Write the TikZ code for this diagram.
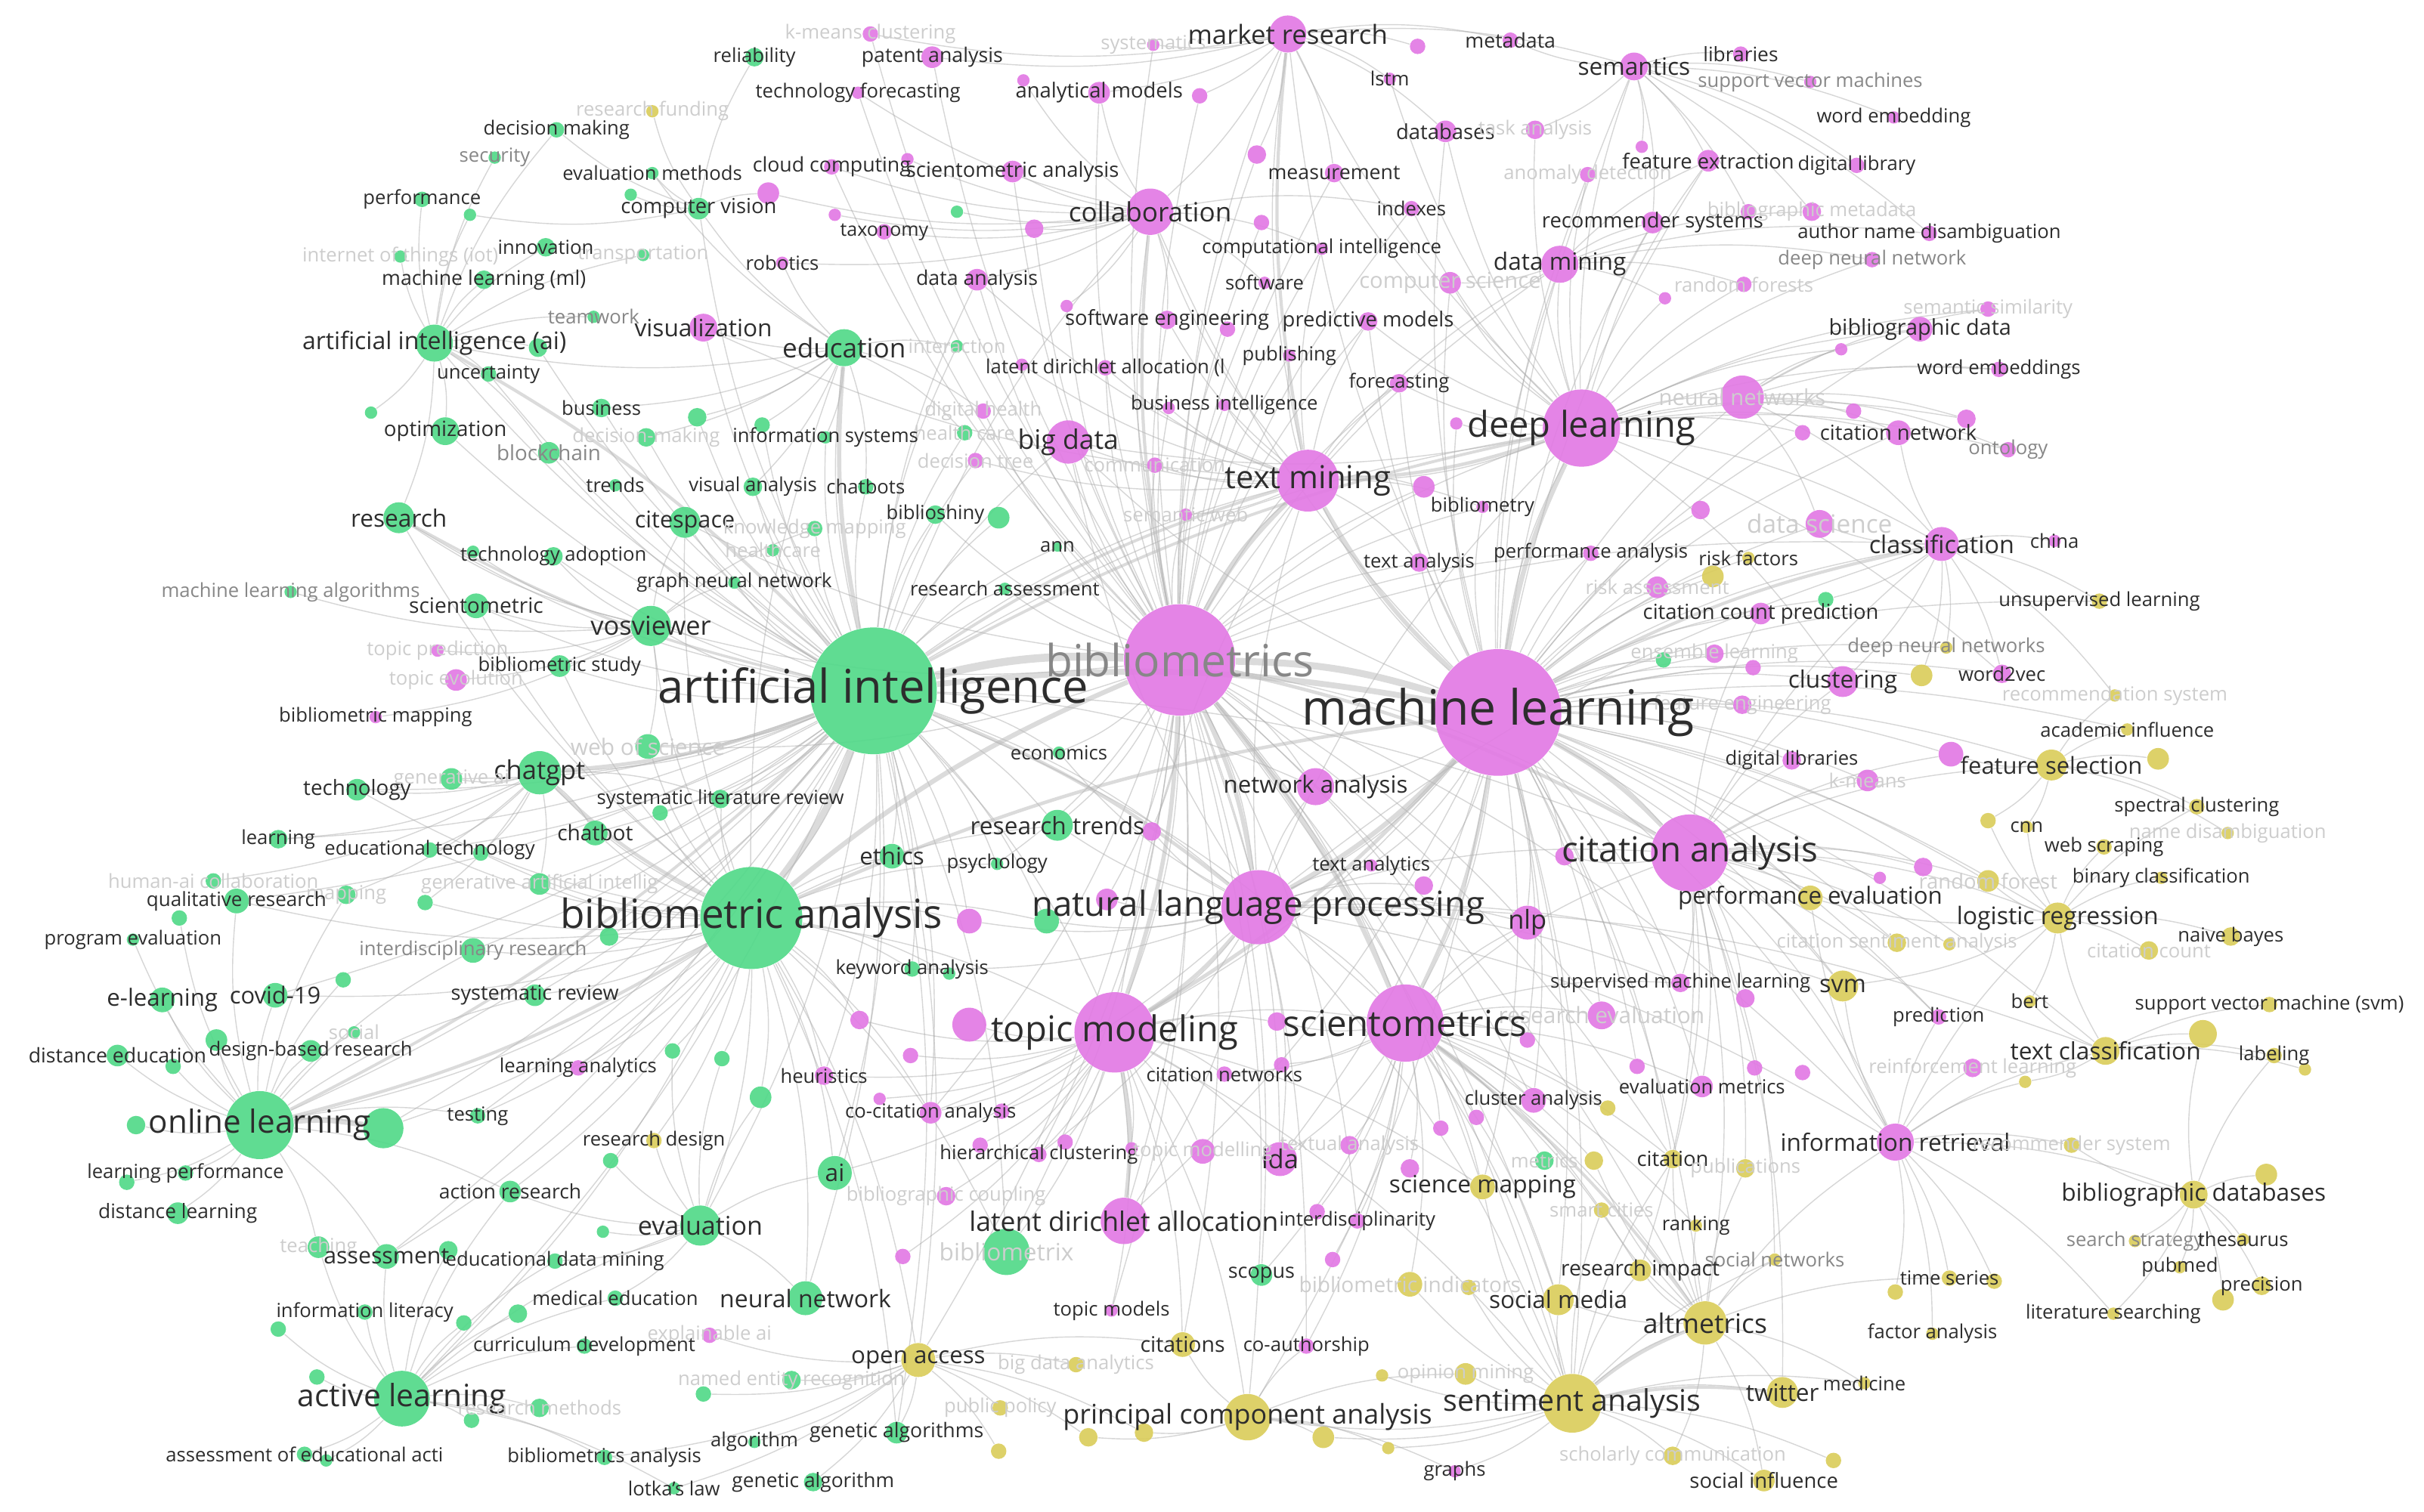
\documentclass[tikz,border=0pt]{standalone}
\usepackage{fontspec}
\setmainfont{Open Sans}
\usetikzlibrary{backgrounds}

\definecolor{vg}{RGB}{82,217,137}
\definecolor{vp}{RGB}{226,122,228}
\definecolor{vy}{RGB}{218,205,92}
\definecolor{kwdark}{RGB}{45,45,45}
\definecolor{kwmid}{RGB}{135,135,135}
\definecolor{kwfade}{RGB}{205,205,205}

\tikzset{
  kwdot/.style={circle, inner sep=0pt, draw=none, fill opacity=0.92},
  kwlbl/.style={inner sep=0pt, anchor=center},
  kwedge/.style={draw=black!32, line width=0.4pt, opacity=0.5},
  kwlink/.style={draw=black!28, opacity=0.5},
}

% name/x/y/radius/colour/font size/label/label colour
\newcommand{\kwlist}{%
kmeans/563/22/5/vp/7.3/k-means clustering/kwfade,
reliab/488/37/6/vg/7.3/reliability/kwdark,
patent/603/37/7/vp/7.6/patent analysis/kwdark,
systematics/746/29/4/vp/7.3/systematics/kwfade,
market/833/22/12/vp/9.9/market research/kwdark,
p917/917/30/5/vp/7/{}/kwdark,
metadata/977/26/5/vp/7.6/metadata/kwdark,
semantics/1057/43/9/vp/9/semantics/kwdark,
libraries/1126/35/5/vp/7.5/libraries/kwdark,
svms/1171/53/4/vp/7.3/support vector machines/kwmid,
techfore/555/60/4/vp/7.3/technology forecasting/kwdark,
analytic/711/60/7/vp/7.8/analytical models/kwdark,
p776/776/62/5/vp/7/{}/kwdark,
p662/662/52/4/vp/7/{}/kwdark,
funding/422/72/4/vy/7.3/research funding/kwfade,
wordemb/1225/76/4/vp/7.3/word embedding/kwdark,
lstm/899/51/4/vp/7.3/lstm/kwdark,
decision/360/84/5/vg/7.3/decision making/kwdark,
security/320/102/4/vg/7.3/security/kwmid,
evalmeth/422/112/4/vg/7.3/evaluation methods/kwdark,
cloud/538/108/5/vp/7.6/cloud computing/kwdark,
p587/587/103/4/vp/7/{}/kwdark,
sciana/655/111/7/vp/7.8/scientometric analysis/kwdark,
databases/935/85/7/vp/7.8/databases/kwdark,
task/993/84/6/vp/7.3/task analysis/kwfade,
measure/863/112/6/vp/7.6/measurement/kwdark,
p813/813/100/6/vp/7/{}/kwdark,
featext/1105/104/7/vp/7.8/feature extraction/kwdark,
p1062/1062/95/4/vp/7/{}/kwdark,
diglib/1201/107/5/vp/7.3/digital library/kwdark,
anomaly/1027/113/5/vp/7.3/anomaly detection/kwfade,
perform/273/129/5/vg/7.3/performance/kwdark,
g304/304/139/4/vg/7/{}/kwdark,
compvis/452/135/7/vg/7.8/computer vision/kwdark,
p497/497/125/7/vp/7/{}/kwdark,
g408/408/126/4/vg/7/{}/kwdark,
p540/540/139/4/vp/7/{}/kwdark,
taxonomy/572/150/5/vp/7.1/taxonomy/kwdark,
g619/619/137/4/vg/7/{}/kwdark,
p669/669/148/6/vp/7/{}/kwdark,
p816/816/144/5/vp/7/{}/kwdark,
collab/744/137/15/vp/10/collaboration/kwdark,
indexes/913/135/5/vp/7.3/indexes/kwdark,
compint/855/161/4/vp/7.3/computational intelligence/kwdark,
software/818/183/4/vp/7.3/software/kwdark,
compsci/938/183/7/vp/8.3/computer science/kwfade,
datamin/1009/171/12/vp/9/data mining/kwdark,
recsys/1069/144/7/vp/7.8/recommender systems/kwdark,
author/1248/151/5/vp/7.3/author name disambiguation/kwdark,
bibmeta/1172/137/6/vp/7.3/bibliographic metadata/kwfade,
p1131/1131/137/5/vp/7/{}/kwdark,
dnn/1211/168/5/vp/7.3/deep neural network/kwmid,
rforests/1128/184/5/vp/7.3/random forests/kwfade,
p1077/1077/193/4/vp/7/{}/kwdark,
predmod/885/208/6/vp/7.8/predictive models/kwdark,
softeng/755/207/6/vp/7.8/software engineering/kwdark,
p690/690/198/4/vp/7/{}/kwdark,
p794/794/213/5/vp/7/{}/kwdark,
publish/834/230/4/vp/7.3/publishing/kwdark,
forecast/905/248/6/vp/7.3/forecasting/kwdark,
ldal/715/238/5/vp/7.3/latent dirichlet allocation (l/kwdark,
p661/661/236/4/vp/7/{}/kwdark,
dataana/632/181/7/vp/7.6/data analysis/kwdark,
robotics/506/170/4/vp/7.3/robotics/kwdark,
transport/416/165/4/vg/7.3/transportation/kwfade,
innov/353/160/6/vg/7.3/innovation/kwdark,
iot/259/166/4/vg/7.3/internet of things (iot)/kwfade,
mlml/313/181/6/vg/7.6/machine learning (ml)/kwdark,
teamwork/384/205/4/vg/7.3/teamwork/kwmid,
aiai/281/222/12/vg/9.1/artificial intelligence (ai)/kwdark,
g348/348/225/6/vg/7/{}/kwdark,
uncert/316/242/5/vg/7.3/uncertainty/kwdark,
g240/240/267/4/vg/7/{}/kwdark,
optim/288/279/9/vg/7.9/optimization/kwdark,
business/389/264/6/vg/7.3/business/kwdark,
blockchain/355/293/7/vg/7.9/blockchain/kwmid,
decmak/418/283/6/vg/7.3/decision-making/kwfade,
g451/451/270/6/vg/7/{}/kwdark,
g493/493/275/5/vg/7/{}/kwdark,
trends/398/314/4/vg/7.3/trends/kwdark,
visual/455/212/9/vp/9/visualization/kwdark,
educ/546/225/12/vg/10/education/kwdark,
interact/619/224/4/vg/7.3/interaction/kwfade,
dighealth/636/266/5/vp/7.3/digital health/kwfade,
healthc/624/280/5/vg/7.3/health care/kwfade,
infosys/534/283/4/vg/7.3/information systems/kwdark,
bigdata/691/286/14/vp/10.1/big data/kwdark,
dtree/631/298/5/vp/7.3/decision tree/kwfade,
busint/792/262/4/vp/7.3/business intelligence/kwdark,
p756/756/264/4/vp/7/{}/kwdark,
commun/747/301/5/vp/7.3/communication/kwfade,
visana/487/315/6/vg/7.3/visual analysis/kwdark,
chatbots/560/315/5/vg/7.3/chatbots/kwdark,
textmin/846/311/20/vp/11.9/text mining/kwdark,
deepl/1023/277/25/vp/13.4/deep learning/kwdark,
p942/942/274/4/vp/7/{}/kwdark,
neuralnets/1127/257/14/vp/8.3/neural networks/kwfade,
p1166/1166/280/5/vp/7/{}/kwdark,
wordembs/1293/239/5/vp/7.3/word embeddings/kwdark,
bibdata/1242/213/8/vp/8.2/bibliographic data/kwdark,
semsim/1286/200/5/vp/7.3/semantic similarity/kwfade,
p1191/1191/226/4/vp/7/{}/kwdark,
citnet/1228/280/8/vp/7.8/citation network/kwdark,
p1272/1272/271/6/vp/7/{}/kwdark,
p1199/1199/266/5/vp/7/{}/kwdark,
ontology/1299/291/5/vp/7.3/ontology/kwmid,
p921/921/315/7/vp/7/{}/kwdark,
biblmetry/959/328/4/vp/7.3/bibliometry/kwdark,
textana/918/364/6/vp/7.3/text analysis/kwdark,
perfana/1029/358/5/vp/7.3/performance analysis/kwdark,
risk/1131/361/4/vy/7.3/risk factors/kwdark,
y1108/1108/373/7/vy/7/{}/kwdark,
riskass/1072/380/7/vp/7.3/risk assessment/kwfade,
citcount/1139/397/7/vp/7.8/citation count prediction/kwdark,
g1181/1181/388/5/vg/7/{}/kwdark,
ensemble/1109/423/6/vp/7.3/ensemble learning/kwfade,
g1076/1076/427/5/vg/7/{}/kwdark,
p1134/1134/432/5/vp/7/{}/kwdark,
feateng/1127/456/6/vp/7.3/feature engineering/kwfade,
cluster/1192/441/10/vp/9/clustering/kwdark,
y1243/1243/437/7/vy/7/{}/kwdark,
dnns/1259/419/4/vy/7.3/deep neural networks/kwmid,
w2v/1295/436/6/vp/7.3/word2vec/kwdark,
recsyst/1368/450/4/vy/7.3/recommendation system/kwfade,
china/1329/350/4/vp/7.3/china/kwdark,
classif/1256/352/11/vp/9.2/classification/kwdark,
datasci/1177/339/9/vp/9.5/data science/kwfade,
p1100/1100/330/6/vp/7/{}/kwdark,
unsup/1358/389/5/vy/7.3/unsupervised learning/kwdark,
acadinf/1376/472/4/vy/7.3/academic influence/kwdark,
featsel/1327/495/10/vy/8.8/feature selection/kwdark,
y1396/1396/491/7/vy/7/{}/kwdark,
p1262/1262/488/8/vp/7/{}/kwdark,
diglibs/1159/492/6/vp/7.3/digital libraries/kwdark,
kmeans2/1208/505/7/vp/7.3/k-means/kwfade,
spectral/1421/522/5/vy/7.3/spectral clustering/kwdark,
cnn/1311/535/4/vy/7.3/cnn/kwdark,
y1286/1286/531/5/vy/7/{}/kwdark,
namedis/1441/539/4/vy/7.3/name disambiguation/kwfade,
webscr/1361/548/5/vy/7.3/web scraping/kwdark,
binclass/1398/568/4/vy/7.3/binary classification/kwdark,
rforest/1286/570/7/vy/7.8/random forest/kwfade,
p1244/1244/561/6/vp/7/{}/kwdark,
p1216/1216/568/4/vp/7/{}/kwdark,
logreg/1331/594/10/vy/9.1/logistic regression/kwdark,
naive/1443/606/6/vy/7.3/naive bayes/kwdark,
citcnt/1390/615/6/vy/7.3/citation count/kwfade,
citsent/1227/610/6/vy/7.3/citation sentiment analysis/kwfade,
y1261/1261/611/4/vy/7/{}/kwdark,
perfeval/1171/581/8/vy/8.9/performance evaluation/kwdark,
svm/1192/638/10/vy/9.2/svm/kwdark,
bert/1313/648/4/vy/7.3/bert/kwdark,
svmfull/1468/650/5/vy/7.3/support vector machine (svm)/kwdark,
predict/1254/658/5/vp/7.3/prediction/kwdark,
y1425/1425/669/9/vy/7/{}/kwdark,
textcl/1362/680/9/vy/9/text classification/kwdark,
labeling/1471/683/5/vy/7.3/labeling/kwdark,
y1491/1491/692/4/vy/7/{}/kwdark,
reinf/1276/691/6/vp/7.3/reinforcement learning/kwfade,
y1310/1310/700/4/vy/7/{}/kwdark,
inforet/1226/739/12/vp/9/information retrieval/kwdark,
recsys2/1340/741/5/vy/7.3/recommender system/kwfade,
y1466/1466/760/7/vy/7/{}/kwdark,
bibdb/1419/773/9/vy/9/bibliographic databases/kwdark,
search/1381/803/4/vy/7.3/search strategy/kwmid,
thesaurus/1451/802/4/vy/7.3/thesaurus/kwdark,
pubmed/1410/820/4/vy/7.3/pubmed/kwdark,
precision/1463/832/6/vy/7.3/precision/kwdark,
y1438/1438/841/7/vy/7/{}/kwdark,
litsearch/1367/850/4/vy/7.3/literature searching/kwdark,
timeser/1261/827/5/vy/7.3/time series/kwdark,
y1290/1290/829/5/vy/7/{}/kwdark,
y1226/1226/836/5/vy/7/{}/kwdark,
factor/1250/863/4/vy/7.3/factor analysis/kwdark,
medicine/1206/895/4/vy/7.3/medicine/kwdark,
y1186/1186/945/5/vy/7/{}/kwdark,
socinf/1141/958/7/vy/7.8/social influence/kwdark,
scholcom/1082/942/6/vy/7.3/scholarly communication/kwfade,
twitter/1153/901/10/vy/9/twitter/kwdark,
sentiment/1017/908/19/vy/11.2/sentiment analysis/kwdark,
altmet/1103/856/14/vy/10.1/altmetrics/kwdark,
socnet/1148/815/4/vy/7.3/social networks/kwmid,
resimp/1061/822/7/vy/8/research impact/kwdark,
ranking/1097/793/4/vy/7.3/ranking/kwdark,
smart/1036/783/5/vy/7.3/smart cities/kwfade,
citation/1082/750/6/vy/7.8/citation/kwdark,
pubs/1129/756/6/vy/7.3/publications/kwfade,
metrics/999/751/6/vg/7.3/metrics/kwfade,
y1031/1031/751/6/vy/7/{}/kwdark,
scimap/959/768/8/vy/9/science mapping/kwdark,
socmed/1008/841/10/vy/9/social media/kwdark,
bibind/912/831/8/vy/8/bibliometric indicators/kwfade,
y950/950/833/5/vy/7/{}/kwdark,
scopus/816/825/7/vg/7.7/scopus/kwdark,
p862/862/815/5/vp/7/{}/kwdark,
coauth/845/871/5/vp/7.3/co-authorship/kwdark,
opinion/948/889/7/vy/7.3/opinion mining/kwfade,
y894/894/890/4/vy/7/{}/kwdark,
pca/807/917/15/vy/10.2/principal component analysis/kwdark,
y856/856/930/7/vy/7/{}/kwdark,
y898/898/937/4/vy/7/{}/kwdark,
graphs/941/952/4/vp/7.3/graphs/kwdark,
interdis/878/790/5/vp/7.3/interdisciplinarity/kwdark,
p852/852/784/5/vp/7/{}/kwdark,
lda/828/750/11/vp/9.8/lda/kwdark,
textual/873/741/6/vp/7.3/textual analysis/kwfade,
p912/912/756/6/vp/7/{}/kwdark,
clusana/992/712/8/vp/7.3/cluster analysis/kwdark,
y1040/1040/717/5/vy/7/{}/kwdark,
p955/955/723/5/vp/7/{}/kwdark,
p932/932/730/5/vp/7/{}/kwdark,
evalmet/1101/703/7/vp/7.3/evaluation metrics/kwdark,
p1059/1059/690/5/vp/7/{}/kwdark,
p1135/1135/691/5/vp/7/{}/kwdark,
p1166b/1166/694/5/vp/7/{}/kwdark,
reseval/1036/657/9/vp/8.5/research evaluation/kwfade,
p988/988/673/5/vp/7/{}/kwdark,
scientomet/909/662/25/vp/13.5/scientometrics/kwdark,
p826/826/661/6/vp/7/{}/kwdark,
citnets/792/695/5/vp/7.3/citation networks/kwdark,
p829/829/689/5/vp/7/{}/kwdark,
topicmod/721/668/26/vp/13.4/topic modeling/kwdark,
p627/627/663/11/vp/7/{}/kwdark,
p556/556/660/6/vp/7/{}/kwdark,
heuristics/533/696/6/vp/7.3/heuristics/kwdark,
p589/589/683/5/vp/7/{}/kwdark,
cocit/602/720/7/vp/7.3/co-citation analysis/kwdark,
p648/648/719/5/vp/7/{}/kwdark,
p569/569/711/4/vp/7/{}/kwdark,
hiercl/672/747/5/vp/7.3/hierarchical clustering/kwdark,
p634/634/741/5/vp/7/{}/kwdark,
p689/689/739/5/vp/7/{}/kwdark,
topicmodl/778/745/8/vp/7.3/topic modelling/kwfade,
p732/732/743/4/vp/7/{}/kwdark,
aismall/540/759/11/vg/9/ai/kwdark,
bibcoup/612/774/6/vp/7.3/bibliographic coupling/kwfade,
lda2/727/790/15/vp/10.1/latent dirichlet allocation/kwdark,
biblx/651/810/15/vg/9/bibliometrix/kwfade,
p584/584/813/5/vp/7/{}/kwdark,
evaluation/453/793/13/vg/9.7/evaluation/kwdark,
neuralnet/521/840/11/vg/9.1/neural network/kwdark,
topicmods/719/848/4/vp/7.3/topic models/kwdark,
citations/765/870/8/vy/8.1/citations/kwdark,
openacc/594/880/11/vy/8.9/open access/kwdark,
xai/459/864/5/vp/7.3/explainable ai/kwfade,
bigdataan/696/883/5/vy/7.3/big data analytics/kwfade,
ner/512/893/6/vg/7.3/named entity recognition/kwfade,
g455/455/902/5/vg/7/{}/kwdark,
pubpol/647/911/5/vy/7.3/public policy/kwfade,
genalgs/580/927/7/vg/7.6/genetic algorithms/kwdark,
algorithm/488/933/4/vg/7.3/algorithm/kwdark,
y646/646/939/5/vy/7/{}/kwdark,
y704/704/930/6/vy/7/{}/kwdark,
y740/740/927/6/vy/7/{}/kwdark,
genalg/526/959/6/vg/7.5/genetic algorithm/kwdark,
lotka/436/963/4/vg/7.3/lotka's law/kwdark,
bibsana/391/943/5/vg/7.3/bibliometrics analysis/kwdark,
research/258/335/10/vg/9/research/kwdark,
techadopt/358/360/6/vg/7.3/technology adoption/kwdark,
g306/306/357/4/vg/7/{}/kwdark,
citespace/443/338/10/vg/8.7/citespace/kwdark,
knowmap/527/342/5/vg/7.3/knowledge mapping/kwfade,
healthcare/500/356/4/vg/7.3/healthcare/kwfade,
bibshiny/605/333/6/vg/7.3/biblioshiny/kwdark,
g646/646/335/7/vg/7/{}/kwdark,
semweb/767/333/4/vp/7.3/semantic web/kwfade,
ann/684/354/3/vg/7.3/ann/kwdark,
gnn/475/377/4/vg/7.3/graph neural network/kwdark,
resass/650/381/4/vg/7.3/research assessment/kwdark,
vosv/421/405/13/vg/9.8/vosviewer/kwdark,
scientom/308/392/8/vg/8/scientometric/kwdark,
mlalg/188/383/4/vg/7.3/machine learning algorithms/kwmid,
topicpred/283/421/4/vp/7.3/topic prediction/kwfade,
topicevo/295/440/7/vp/7.3/topic evolution/kwfade,
bibstudy/362/431/7/vg/7.3/bibliometric study/kwdark,
bibmap/243/464/4/vp/7.3/bibliometric mapping/kwdark,
wos/419/483/8/vg/8.5/web of science/kwfade,
ai/565/447/41/vg/17.5/artificial intelligence/kwdark,
bibliometrics/763/427/36/vp/16.7/bibliometrics/kwmid,
ml/969/461/41/vp/18.3/machine learning/kwdark,
economics/685/487/4/vg/7.3/economics/kwdark,
chatgpt/349/500/14/vg/9.8/chatgpt/kwdark,
genai/292/504/7/vg/7.3/generative ai/kwfade,
technology/231/511/7/vg/7.9/technology/kwdark,
slr/466/517/6/vg/7.3/systematic literature review/kwdark,
g427/427/526/5/vg/7/{}/kwdark,
chatbot/385/539/8/vg/8/chatbot/kwdark,
learning/180/543/6/vg/7.3/learning/kwdark,
edtech/278/550/5/vg/7.3/educational technology/kwdark,
g311/311/552/5/vg/7/{}/kwdark,
ethics/577/554/8/vg/8.9/ethics/kwdark,
restrends/684/534/10/vg/9/research trends/kwdark,
p745/745/538/6/vp/7/{}/kwdark,
psych/645/559/4/vg/7.3/psychology/kwdark,
humanai/138/570/5/vg/7.3/human-ai collaboration/kwfade,
genartint/349/572/7/vg/7.3/generative artificial intellig/kwfade,
g275/275/584/5/vg/7/{}/kwdark,
mapping/224/579/6/vg/7.3/mapping/kwfade,
qualres/153/583/8/vg/7.4/qualitative research/kwdark,
g116/116/594/5/vg/7/{}/kwdark,
progeval/86/608/4/vg/7.3/program evaluation/kwdark,
bibana/486/594/33/vg/15.1/bibliometric analysis/kwdark,
g394/394/606/6/vg/7/{}/kwdark,
p627b/627/596/8/vp/7/{}/kwdark,
g677/677/596/8/vg/7/{}/kwdark,
p716/716/582/7/vp/7/{}/kwdark,
nlp/814/587/24/vp/13/natural language processing/kwdark,
keyword/590/627/5/vg/7.3/keyword analysis/kwdark,
g614/614/630/4/vg/7/{}/kwdark,
netana/851/509/12/vp/8.9/network analysis/kwdark,
textanl/887/560/4/vp/7.3/text analytics/kwdark,
p921b/921/573/6/vp/7/{}/kwdark,
nlpsmall/988/597/11/vp/9.8/nlp/kwdark,
citana/1093/552/25/vp/13/citation analysis/kwdark,
p1012/1012/554/6/vp/7/{}/kwdark,
supml/1087/636/6/vp/7.3/supervised machine learning/kwdark,
p1129/1129/646/6/vp/7/{}/kwdark,
covid/178/644/8/vg/8.8/covid-19/kwdark,
g222/222/634/5/vg/7/{}/kwdark,
elearn/105/647/8/vg/8.9/e-learning/kwdark,
interres/306/615/8/vg/7.3/interdisciplinary research/kwmid,
sysrev/346/644/7/vg/7.7/systematic review/kwdark,
social/229/668/4/vg/7.3/social/kwfade,
dbr/201/680/7/vg/7.3/design-based research/kwdark,
g140/140/673/7/vg/7/{}/kwdark,
disted/76/683/7/vg/7.6/distance education/kwdark,
g112/112/690/5/vg/7/{}/kwdark,
learnana/374/691/5/vp/7.3/learning analytics/kwdark,
g435/435/680/5/vg/7/{}/kwdark,
g467/467/685/5/vg/7/{}/kwdark,
g492/492/710/7/vg/7/{}/kwdark,
resdesign/423/738/5/vy/7.3/research design/kwdark,
g395/395/751/5/vg/7/{}/kwdark,
online/168/728/22/vg/12/online learning/kwdark,
g248/248/730/13/vg/7/{}/kwdark,
g88/88/728/6/vg/7/{}/kwdark,
testing/309/722/5/vg/7.3/testing/kwdark,
learnperf/120/759/5/vg/7.3/learning performance/kwdark,
g82/82/765/5/vg/7/{}/kwdark,
actionres/330/771/7/vg/7.5/action research/kwdark,
distlearn/115/785/7/vg/7.5/distance learning/kwdark,
g390/390/797/4/vg/7/{}/kwdark,
teaching/206/807/7/vg/7.3/teaching/kwfade,
assess/250/813/8/vg/8.6/assessment/kwdark,
g290/290/809/6/vg/7/{}/kwdark,
edm/359/816/5/vg/7.3/educational data mining/kwdark,
medical/398/840/5/vg/7.3/medical education/kwdark,
g335/335/850/6/vg/7/{}/kwdark,
infolit/236/849/5/vg/7.3/information literacy/kwdark,
g180/180/860/5/vg/7/{}/kwdark,
g300/300/856/5/vg/7/{}/kwdark,
curric/378/871/5/vg/7.3/curriculum development/kwdark,
g205/205/891/5/vg/7/{}/kwdark,
active/260/905/18/vg/11.6/active learning/kwdark,
resmeth/349/911/6/vg/7.3/research methods/kwfade,
g305/305/919/5/vg/7/{}/kwdark,
assessedu/197/941/5/vg/7.3/assessment of educational acti/kwdark,
g211/211/945/4/vg/7/{}/kwdark}

\begin{document}
\begin{tikzpicture}[x=0.02045cm, y=-0.02045cm]
    \useasboundingbox (0,0) rectangle (1568,978);
    % Draw the keyword circles
    \foreach \kn/\kx/\ky/\kr/\kc/\kf/\kt/\ko [evaluate=\kr as \kd using 2*\kr*0.5818] in \kwlist {
            \node[kwdot, fill=\kc, minimum size=\kd pt] (\kn) at (\kx,\ky) {};
        }
    % Draw the labels on top
    \foreach \kn/\kx/\ky/\kr/\kc/\kf/\kt/\ko in \kwlist {
            \node[kwlbl, text=\ko, font={\fontsize{\kf}{\kf}\selectfont}] (\kn-lbl) at (\kn.center) {\kt};
        }
    \begin{pgfonlayer}{background}
        % Draw the links of the hubs
        \foreach \b in {bibana, chatgpt, educ, vosv, citespace, slr, ethics, restrends, wos, technology, chatbot, research, aiai, optim, online, evaluation, aismall, neuralnet, bigdata, textmin, nlp, topicmod, scientomet, deepl, economics, psych, bibstudy, business, blockchain, compvis, visual, infosys, visana, chatbots, gnn, resass, bibshiny, knowmap, genai, genartint, sysrev, interres, edtech, learning, covid, qualres, active, assess, collab, dataana, biblx, openacc, genalgs, citana, netana, keyword, uncert, g348, g451, g493, trends, healthcare, techadopt, scientom, g646, g677, g394, g427, p627b, ann, interact, healthc, dtree, decmak, testing, g248, learnana, heuristics, cocit} {
                \draw[kwedge] (ai) to[bend left=10] (\b);
            }
        \foreach \b in {nlp, topicmod, scientomet, textmin, citana, deepl, bigdata, collab, market, netana, restrends, economics, resass, semweb, ann, bibshiny, citespace, vosv, wos, lda2, lda, cocit, hiercl, biblx, scimap, altmet, sentiment, socmed, citation, datamin, classif, inforet, perfana, textana, biblmetry, busint, softeng, publish, compint, ldal, measure, indexes, dataana, p921, forecast, predmod, analytic, sciana, patent, techfore, kmeans, systematics, reseval, clusana, interdis, coauth, scopus, citations, openacc, topicmods, pca, p716, p745, psych, p756, commun, dighealth, p690, p794, software, taxonomy, cloud, p669, p816, p813, p776} {
                \draw[kwedge] (bibliometrics) to[bend left=10] (\b);
            }
        \foreach \b in {deepl, nlp, citana, classif, cluster, featsel, logreg, svm, perfeval, datamin, textmin, topicmod, scientomet, netana, nlpsmall, supml, inforet, evalmet, reseval, clusana, citcount, riskass, ensemble, risk, perfana, textana, predict, textcl, rforest, diglibs, kmeans2, neuralnets, citnet, bibdata, recsys, featext, semantics, databases, compsci, forecast, predmod, sentiment, altmet, socmed, scimap, citation, lda, pca, bigdata, collab, market, datasci, dnns, w2v, unsup, acadinf, p1262, y1243, textanl, p921b, p1012, y1108, g1181, g1076, p1134, feateng, p942, biblmetry, lda2, citsent, p1244, p1100, p1166, anomaly, p988, p1059} {
                \draw[kwedge] (ml) to[bend left=10] (\b);
            }
        \foreach \b in {chatgpt, vosv, citespace, wos, slr, chatbot, sysrev, interres, genartint, ethics, restrends, keyword, evaluation, aismall, neuralnet, online, active, educ, technology, edtech, qualres, covid, research, scientom, bibstudy, learnana, g394, g427, g492, genalgs, openacc, biblx, heuristics, cocit, topicmod, psych, g614, p556, g248, testing, resdesign, g467, g435, actionres, assess, g311, g275, p627b, g677} {
                \draw[kwedge] (bibana) to[bend left=10] (\b);
            }
        \foreach \b in {textmin, topicmod, lda2, sentiment, deepl, textanl, nlpsmall, citana, netana, restrends, scientomet, p716, p745, inforet, textcl, bigdata, p921b, cocit, lda, hiercl, p627b, g677, keyword, supml, svm, classif, economics} {
                \draw[kwedge] (nlp) to[bend left=10] (\b);
            }
        \foreach \b in {lda2, lda, cocit, hiercl, heuristics, citnets, topicmodl, bibcoup, p627, p556, scientomet, textmin, pca, sentiment, topicmods, citations, p589, scimap, p826, p648, p569, p634, p689, p732, aismall, biblx, p584} {
                \draw[kwedge] (topicmod) to[bend left=10] (\b);
            }
        \foreach \b in {citana, altmet, scimap, socmed, reseval, clusana, evalmet, supml, resimp, citation, interdis, lda, textual, p912, coauth, scopus, bibind, sentiment, p826, p988, smart, ranking, p852, p862, p955, p932, y1040, metrics, y1031, p829, citnets, nlpsmall} {
                \draw[kwedge] (scientomet) to[bend left=10] (\b);
            }
        \foreach \b in {neuralnets, datamin, classif, textmin, featext, recsys, bibdata, citnet, w2v, dnn, wordembs, semsim, predmod, forecast, compsci, semantics, lstm, databases, anomaly, p942, p1166, p1199, cluster, p1272, p1191, rforests, p1077, bigdata, market, task, indexes, measure, ontology} {
                \draw[kwedge] (deepl) to[bend left=10] (\b);
            }
        \foreach \b in {bibdata, wordembs, semsim, ontology, p1272, p1191, citnet, datasci, classif} {
                \draw[kwedge] (neuralnets) to[bend left=10] (\b);
            }
        \foreach \b in {bigdata, collab, market, datamin, busint, softeng, predmod, publish, p921, biblmetry, textana, dataana, visual, semweb, ldal, commun, dtree, p756, forecast, compint, p661} {
                \draw[kwedge] (textmin) to[bend left=10] (\b);
            }
        \foreach \b in {altmet, perfeval, svm, logreg, featsel, cluster, diglibs, citcount, supml, socnet, twitter, inforet, predict, citsent, rforest, p1012, p1244, kmeans2, p1216, y1261, evalmet, p1129, p1262, classif, resimp, citation, pubs} {
                \draw[kwedge] (citana) to[bend left=10] (\b);
            }
        \foreach \b in {disted, elearn, covid, learnperf, distlearn, g248, g88, testing, dbr, qualres, actionres, assess, g140, g112, social, progeval, g82, g222, mapping, teaching, sysrev, interres, g116} {
                \draw[kwedge] (online) to[bend left=10] (\b);
            }
        \foreach \b in {assess, infolit, curric, assessedu, resmeth, medical, g205, g305, teaching, g180, edm, actionres, bibsana, g211, g335, g300, g290, evaluation, lotka} {
                \draw[kwedge] (active) to[bend left=10] (\b);
            }
        \foreach \b in {altmet, socmed, twitter, socinf, scholcom, opinion, pca, y856, resimp, socnet, scimap, y894, graphs, bibind, y950, y898, y1186, medicine, citation, smart} {
                \draw[kwedge] (sentiment) to[bend left=10] (\b);
            }
        \foreach \b in {twitter, socinf, resimp, citation, ranking, socmed, pubs, smart, medicine, inforet, socnet, scholcom, y1031, timeser} {
                \draw[kwedge] (altmet) to[bend left=10] (\b);
            }
        \foreach \b in {bibdb, textcl, recsys2, predict, timeser, factor, reinf, y1310, svm, y1226, y1290, litsearch, perfeval, logreg} {
                \draw[kwedge] (inforet) to[bend left=10] (\b);
            }
        \foreach \b in {thesaurus, pubmed, precision, search, litsearch, y1466, y1438, labeling, y1425, recsys2} {
                \draw[kwedge] (bibdb) to[bend left=10] (\b);
            }
        \foreach \b in {labeling, y1425, svmfull, bert, y1491, logreg, y1310} {
                \draw[kwedge] (textcl) to[bend left=10] (\b);
            }
        \foreach \b in {naive, webscr, binclass, citcnt, bert, cnn, rforest, svm, spectral, y1286, perfeval} {
                \draw[kwedge] (logreg) to[bend left=10] (\b);
            }
        \foreach \b in {acadinf, y1396, spectral, cnn, y1286, recsyst, namedis, p1262} {
                \draw[kwedge] (featsel) to[bend left=10] (\b);
            }
        \foreach \b in {china, unsup, datasci, dnns, w2v, cluster, citnet, recsyst, y1243, g1181} {
                \draw[kwedge] (classif) to[bend left=10] (\b);
            }
        \foreach \b in {visual, compvis, evalmeth, interact, infosys, chatbots, visana, aiai, business, dighealth, robotics, g451, g493, decmak, healthc} {
                \draw[kwedge] (educ) to[bend left=10] (\b);
            }
        \foreach \b in {mlml, innov, iot, perform, uncert, optim, teamwork, security, decision, g240, g304, transport, blockchain, research, g348} {
                \draw[kwedge] (aiai) to[bend left=10] (\b);
            }
        \foreach \b in {reliab, evalmeth, g408, decision, funding, p497, g304} {
                \draw[kwedge] (compvis) to[bend left=10] (\b);
            }
        \foreach \b in {lstm, metadata, analytic, patent, p917, systematics, kmeans, databases, measure, collab, p776, p813, semantics} {
                \draw[kwedge] (market) to[bend left=10] (\b);
            }
        \foreach \b in {analytic, sciana, cloud, taxonomy, p669, softeng, dataana, compint, software, indexes, p587, p540, g619, p690, p497, robotics, techfore, p662} {
                \draw[kwedge] (collab) to[bend left=10] (\b);
            }
        \foreach \b in {libraries, svms, wordemb, featext, diglib, author, p1062, bibmeta, task, p1131, metadata, recsys} {
                \draw[kwedge] (semantics) to[bend left=10] (\b);
            }
        \foreach \b in {citespace, scientom, wos, bibstudy, topicevo, topicpred, mlalg, bibmap, techadopt, g306, gnn, knowmap, research} {
                \draw[kwedge] (vosv) to[bend left=10] (\b);
            }
        \foreach \b in {genai, technology, learning, edtech, chatbot, slr, g311, mapping, humanai, g275, genartint} {
                \draw[kwedge] (chatgpt) to[bend left=10] (\b);
            }
        \foreach \b in {neuralnet, aismall, resdesign, g395, g492, g467, g435, medical, edm, actionres, g390} {
                \draw[kwedge] (evaluation) to[bend left=10] (\b);
            }
        \foreach \b in {citations, genalgs, bigdataan, pubpol, y646, y704, y740, ner, xai, g455, algorithm, genalg, lotka, bibsana} {
                \draw[kwedge] (openacc) to[bend left=10] (\b);
            }
        \foreach \b in {y856, y898, y740, citations, coauth, opinion, y704, graphs} {
                \draw[kwedge] (pca) to[bend left=10] (\b);
            }
        \foreach \b in {recsys, featext, compsci, rforests, dnn, author, bibmeta, p1077} {
                \draw[kwedge] (datamin) to[bend left=10] (\b);
            }
        % Draw the strong links between the large keywords
        \foreach \a/\b/\w in {ai/bibliometrics/3, ai/ml/2.2, bibliometrics/ml/2.6, ai/bibana/2.6, bibana/bibliometrics/1.8, bibana/ml/1.3, ml/nlp/1.8, ml/deepl/1.8, ml/citana/1.6, ml/textmin/1.6, ml/topicmod/1.4, ml/scientomet/1.4, bibliometrics/textmin/1.8, bibliometrics/nlp/1.6, bibliometrics/topicmod/1.6, bibliometrics/scientomet/1.8, ai/nlp/1.3, ai/educ/1.6, ai/chatgpt/1.4, online/g248/2.2, ai/online/1.1, ai/deepl/1.1, nlp/topicmod/1.3, deepl/textmin/1.3, bibliometrics/citana/1.3, ai/textmin/1.1, sentiment/altmet/1.3, scientomet/altmet/1.1, ai/research/1, aiai/ai/1.2, bibana/chatgpt/1.3, bibana/online/1.2, topicmod/lda2/1.4, bibliometrics/collab/1.2, textmin/market/1.2, ml/classif/1.2, sentiment/twitter/1.1} {
                \draw[kwlink, line width=\w pt] (\a) to[bend left=8] (\b);
            }
    \end{pgfonlayer}
\end{tikzpicture}
\end{document}
